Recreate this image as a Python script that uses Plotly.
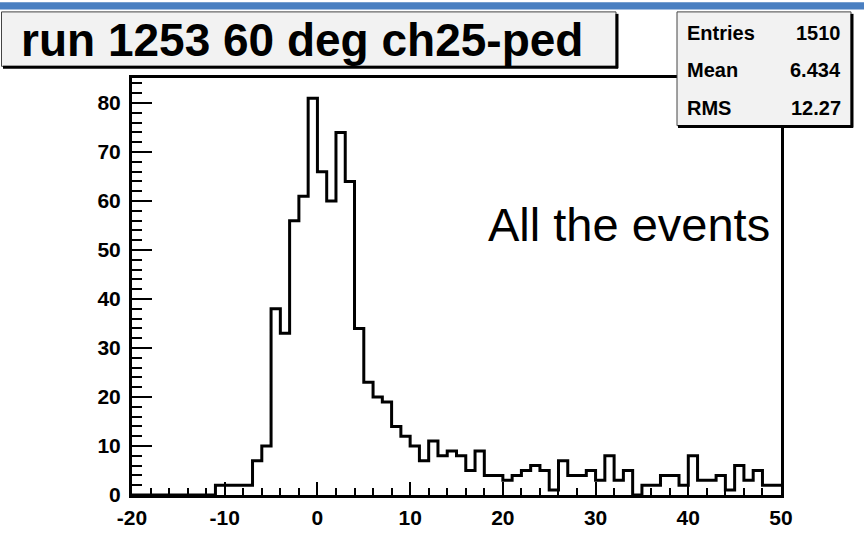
import plotly.graph_objects as go

# ---- data ----
bin_edges = list(range(-20, 51))          # 70 bins of width 1 from -20 to 50
counts = [0, 0, 0, 0, 0, 0, 0, 0, 0,      # -20 .. -12
          2, 2, 2, 2,                     # -11 .. -8
          7, 10, 38, 33, 56, 61, 81,      # -7 .. -1
          66, 60, 74, 64, 34, 23, 20, 19, 14, 12,   # 0 .. 9
          10, 7, 11, 8, 9, 8, 5, 9, 4, 4,           # 10 .. 19
          3, 4, 5, 6, 5, 1, 7, 4, 4, 5,             # 20 .. 29
          3, 8, 3, 5, 0, 2, 2, 4, 4, 2,             # 30 .. 39
          8, 3, 3, 4, 1, 6, 3, 5, 2, 2]             # 40 .. 49
x_tickvals = [-20, -10, 0, 10, 20, 30, 40, 50]
x_ticktext = ["-20", "-10", "0", "10", "20", "30", "40", "50"]
y_tickvals = [0, 10, 20, 30, 40, 50, 60, 70, 80]
y_ticktext = ["0", "10", "20", "30", "40", "50", "60", "70", "80"]
title_text = "run 1253 60 deg ch25-ped"
stat_names = ["Entries", "Mean", "RMS"]
stat_values = ["1510", "6.434", "12.27"]
note_text = "All the events"

W, H = 864, 541
L, R, T, B = 132, 781, 78, 507


def pxx(p):
    return (p - L) / (R - L)


def pxy(p):
    return (B - p) / (B - T)


fig = go.Figure()
fig.add_trace(go.Scatter(
    x=bin_edges,
    y=counts + [counts[-1]],
    mode="lines",
    line=dict(color="black", width=3, shape="hv"),
    hoverinfo="skip",
))

font_family = "Liberation Sans, Arial, Helvetica, sans-serif"
tickfont = dict(family=font_family, size=21, color="black", weight="bold")

fig.update_xaxes(
    range=[-20, 50], tickmode="array", tickvals=x_tickvals, ticktext=x_ticktext,
    showgrid=False, zeroline=False,
    showline=True, linecolor="black", linewidth=3, mirror=True,
    ticks="inside", ticklen=13, tickwidth=2, tickcolor="black",
    minor=dict(ticks="inside", dtick=2, tick0=-20, ticklen=7, tickwidth=2, tickcolor="black", showgrid=False),
    tickfont=tickfont, ticklabelstandoff=2,
)
fig.update_yaxes(
    range=[0, (B - T) / 5.04], tickmode="array", tickvals=y_tickvals, ticktext=y_ticktext,
    showgrid=False, zeroline=False,
    showline=True, linecolor="black", linewidth=3, mirror=True,
    ticks="inside", ticklen=20, tickwidth=2, tickcolor="black",
    minor=dict(ticks="inside", dtick=2, tick0=0, ticklen=10, tickwidth=2, tickcolor="black", showgrid=False),
    tickfont=tickfont, ticklabelstandoff=4,
)

shapes = []
# blue band at the top
shapes.append(dict(type="rect", xref="paper", yref="paper", layer="above",
                   x0=pxx(0), x1=pxx(W), y0=pxy(7.5), y1=pxy(0),
                   fillcolor="#4a7fc1", line=dict(width=0)))
# title box
shapes.append(dict(type="rect", xref="paper", yref="paper", layer="above",
                   x0=pxx(1.5), x1=pxx(616), y0=pxy(66), y1=pxy(10),
                   fillcolor="#f2f2f2", line=dict(color="#444", width=1)))
shapes.append(dict(type="line", xref="paper", yref="paper", layer="above",
                   x0=pxx(3), x1=pxx(618), y0=pxy(67), y1=pxy(67),
                   line=dict(color="black", width=3)))
shapes.append(dict(type="line", xref="paper", yref="paper", layer="above",
                   x0=pxx(617), x1=pxx(617), y0=pxy(12), y1=pxy(68),
                   line=dict(color="black", width=3)))
# stats box
shapes.append(dict(type="rect", xref="paper", yref="paper", layer="above",
                   x0=pxx(677), x1=pxx(851), y0=pxy(127), y1=pxy(10),
                   fillcolor="#f2f2f2", line=dict(color="#444", width=1)))
shapes.append(dict(type="line", xref="paper", yref="paper", layer="above",
                   x0=pxx(678), x1=pxx(853), y0=pxy(128), y1=pxy(128),
                   line=dict(color="black", width=3)))
shapes.append(dict(type="line", xref="paper", yref="paper", layer="above",
                   x0=pxx(852), x1=pxx(852), y0=pxy(12), y1=pxy(129),
                   line=dict(color="black", width=3)))

annotations = []
annotations.append(dict(xref="paper", yref="paper", x=pxx(302), y=pxy(39),
                        xanchor="center", yanchor="middle", showarrow=False,
                        text=title_text,
                        font=dict(family=font_family, size=46, color="black", weight="bold")))
row_y = [32, 70, 109]
for name, val, yy in zip(stat_names, stat_values, row_y):
    annotations.append(dict(xref="paper", yref="paper", x=pxx(685), y=pxy(yy),
                            xanchor="left", yanchor="middle", showarrow=False, text=name,
                            font=dict(family=font_family, size=20, color="black", weight="bold")))
    annotations.append(dict(xref="paper", yref="paper", x=pxx(843), y=pxy(yy),
                            xanchor="right", yanchor="middle", showarrow=False, text=val,
                            font=dict(family=font_family, size=20, color="black", weight="bold")))
annotations.append(dict(xref="paper", yref="paper", x=pxx(486), y=pxy(229),
                        xanchor="left", yanchor="middle", showarrow=False, text=note_text,
                        font=dict(family=font_family, size=47, color="black")))

fig.update_layout(
    width=W, height=H,
    margin=dict(l=L, r=W - R, t=T, b=H - B, pad=0),
    paper_bgcolor="white", plot_bgcolor="white",
    showlegend=False,
    shapes=shapes, annotations=annotations,
)

fig.write_html("out.html")
